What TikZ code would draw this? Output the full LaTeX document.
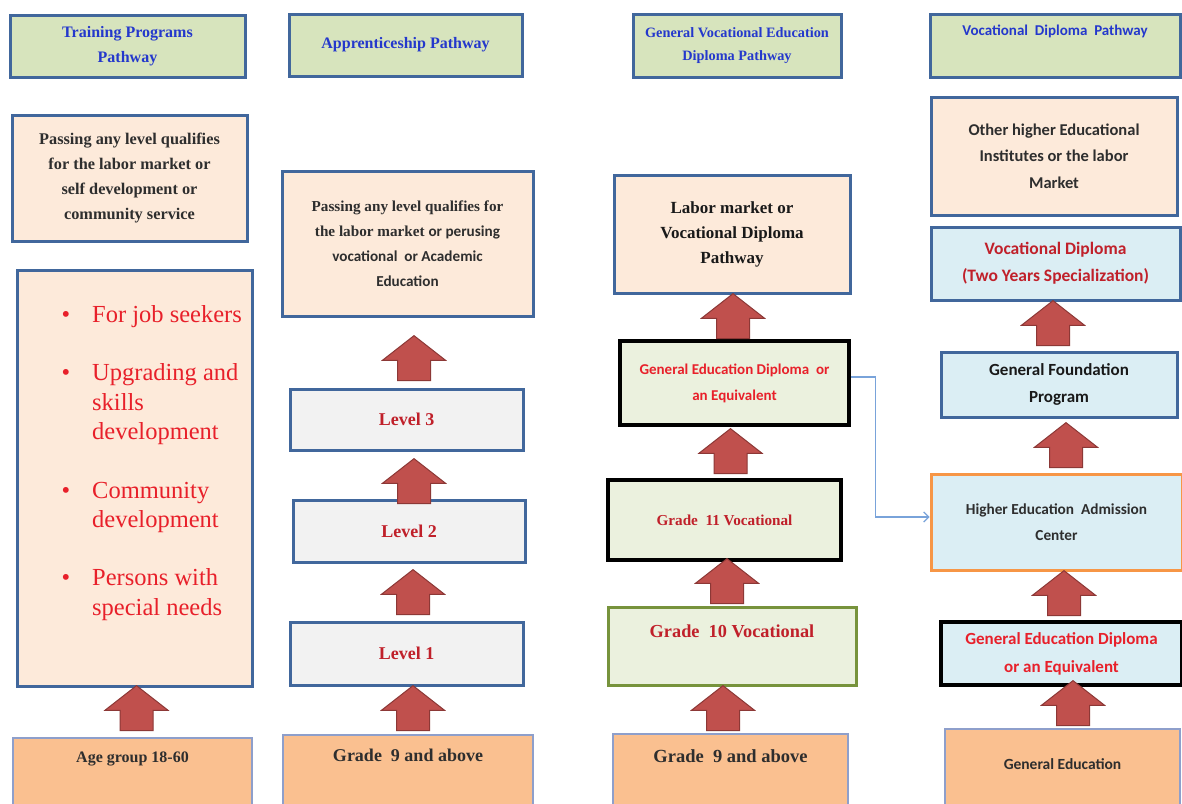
\documentclass[tikz,border=0pt]{standalone}
\usepackage{fontspec}
\setmainfont{Liberation Serif}
\newfontfamily\cali{Carlito}
\usetikzlibrary{shapes.arrows,arrows.meta}
\definecolor{hdrgreen}{HTML}{D7E4BD}
\definecolor{peach}{HTML}{FDEADA}
\definecolor{tanbox}{HTML}{FAC090}
\definecolor{paleolive}{HTML}{EBF1DE}
\definecolor{paleblue}{HTML}{DBEEF4}
\definecolor{palegray}{HTML}{F2F2F2}
\definecolor{boxblue}{HTML}{41679C}
\definecolor{lavline}{HTML}{8E9FCB}
\definecolor{oliveline}{HTML}{77933C}
\definecolor{orangeline}{HTML}{F79646}
\definecolor{ttlblue}{HTML}{2438CC}
\definecolor{brightred}{HTML}{E8202A}
\definecolor{darkred}{HTML}{C0202A}
\definecolor{inkgray}{HTML}{2E2E2E}
\definecolor{arrfill}{HTML}{C0504D}
\definecolor{arrline}{HTML}{8C3836}
\definecolor{linkblue}{HTML}{79A3DA}
\begin{document}
\begin{tikzpicture}[
  x=1pt,y=-1pt,
  box/.style={draw=boxblue,line width=3pt,align=center,inner sep=2pt},
  hdrbox/.style={box,fill=hdrgreen,text=ttlblue,font=\bfseries\fontsize{16}{24.5}\selectfont},
  infobox/.style={box,fill=peach,text=inkgray},
  levelbox/.style={box,fill=palegray,text=darkred,font=\bfseries\fontsize{18}{22}\selectfont},
  entrybox/.style={draw=lavline,line width=1.5pt,fill=tanbox,text=inkgray},
  toplab/.style={anchor=north,inner sep=0pt},
  bullets/.style={align=left,text=brightred,inner sep=0pt,font=\fontsize{24.5}{29.3}\selectfont},
  uparrow/.style={single arrow,shape border rotate=90,anchor=tip,fill=arrfill,draw=arrline,line width=1pt,
    minimum height=45pt,single arrow head extend=15pt,single arrow tip angle=104,inner xsep=16pt,inner ysep=4pt},
  link/.style={draw=linkblue,line width=1.2pt,-{Straight Barb[length=5pt,width=10pt]}}
]
  \useasboundingbox[fill=white] (0,0) rectangle (1182,803);

  % training programs
  \node[hdrbox,minimum width=235pt,minimum height=62pt] (T1) at (127.5,46) {Training Programs\\Pathway};
  \node[infobox,minimum width=235pt,minimum height=126pt,font=\bfseries\fontsize{16.3}{25}\selectfont] (T2) at (129.5,178)
    {Passing any level qualifies\\for the labor market or\\self development or\\community service};
  \node[infobox,minimum width=235pt,minimum height=416pt] (T3) at (134.5,478) {};
  \node[bullets,anchor=north west] (T3list) at (92,305) {%
    \llap{\textbullet\hspace{22pt}}For job seekers\\[29.3pt]
    \llap{\textbullet\hspace{22pt}}Upgrading and\\skills\\development\\[29.3pt]
    \llap{\textbullet\hspace{22pt}}Community\\development\\[29.3pt]
    \llap{\textbullet\hspace{22pt}}Persons with\\special needs};
  \node[entrybox,minimum width=239pt,minimum height=74pt,
    label={[toplab,yshift=-14pt,font=\bfseries\fontsize{16}{20}\selectfont,text=inkgray]north:Age group 18-60}] (T4) at (132.5,775) {};

  % apprenticeship
  \node[hdrbox,minimum width=233pt,minimum height=62pt] (A1) at (405.5,45) {Apprenticeship Pathway};
  \node[infobox,minimum width=251pt,minimum height=145pt,font=\fontsize{15.2}{25}\selectfont] (A2) at (407.5,243.5)
    {\bfseries Passing any\ level\ qualifies for\\{\bfseries the labor\ market} {\cali\bfseries or perusing}\\{\cali\bfseries vocational\ \ or Academic}\\{\cali\bfseries Education}};
  \node[levelbox,minimum width=233pt,minimum height=61pt] (A3) at (406.5,419.5) {Level 3};
  \node[levelbox,minimum width=232pt,minimum height=62pt] (A4) at (409,531) {Level 2};
  \node[levelbox,minimum width=233pt,minimum height=63pt] (A5) at (406.5,653.5) {Level 1};
  \node[entrybox,minimum width=250pt,minimum height=80pt,
    label={[toplab,yshift=-15pt,font=\bfseries\fontsize{18}{22}\selectfont,text=inkgray]north:Grade\ \ 9 and above}] (A6) at (408,775) {};

  % general vocational education diploma
  \node[hdrbox,minimum width=208pt,minimum height=63pt,font=\bfseries\fontsize{14.3}{23}\selectfont] (G1) at (737,45.5)
    {General Vocational Education\\Diploma Pathway};
  \node[infobox,minimum width=236pt,minimum height=118pt,text=black!90,font=\bfseries\fontsize{17}{25}\selectfont] (G2) at (732,234)
    {Labor\ market or\\Vocational Diploma\\Pathway};
  \node[box,draw=black,line width=3.5pt,fill=paleolive,text=brightred,minimum width=229pt,minimum height=84pt,
    font=\cali\bfseries\fontsize{15}{26}\selectfont] (G3) at (734.5,383) {General Education\ Diploma\ \ or\\an Equivalent};
  \node[box,draw=black,line width=3.5pt,fill=paleolive,text=darkred,minimum width=233pt,minimum height=80pt,
    font=\bfseries\fontsize{15.2}{18}\selectfont] (G4) at (724.5,520) {Grade\ \ 11 Vocational};
  \node[box,draw=oliveline,fill=paleolive,minimum width=248pt,minimum height=78pt,
    label={[toplab,yshift=-19pt,font=\bfseries\fontsize{18.3}{23}\selectfont,text=darkred]north:Grade\ \ 10 Vocational}] (G5) at (732,646) {};
  \node[entrybox,minimum width=235pt,minimum height=76pt,
    label={[toplab,yshift=-16pt,font=\bfseries\fontsize{18.5}{23}\selectfont,text=inkgray]north:Grade\ \ 9 and above}] (G6) at (730.5,772) {};

  % vocational diploma
  \node[box,fill=hdrgreen,minimum width=250pt,minimum height=63pt,
    label={[toplab,yshift=-12pt,font=\cali\bfseries\fontsize{15}{18}\selectfont,text=ttlblue]north:Vocational\ \ Diploma\ \ Pathway}] (V1) at (1055,45.5) {};
  \node[infobox,minimum width=246pt,minimum height=118pt,font=\cali\bfseries\fontsize{16.5}{26.5}\selectfont] (V2) at (1054,156)
    {Other higher Educational\\Institutes or the labor\\Market};
  \node[box,fill=paleblue,text=darkred,minimum width=249pt,minimum height=73pt,
    font=\cali\bfseries\fontsize{17.5}{27}\selectfont] (V3) at (1055.5,263.5) {Vocational Diploma\\(Two Years Specialization)};
  \node[box,fill=paleblue,text=black!90,minimum width=236pt,minimum height=65pt,
    font=\cali\bfseries\fontsize{17}{27}\selectfont] (V4) at (1059,384.5) {General Foundation\\Program};
  \node[box,draw=orangeline,fill=paleblue,text=inkgray,minimum width=251pt,minimum height=96pt,
    font=\cali\bfseries\fontsize{15.3}{26}\selectfont] (V5) at (1056.5,522) {Higher Education\ \ Admission\\Center};
  \node[box,draw=black,line width=3.5pt,fill=paleblue,text=brightred,minimum width=241pt,minimum height=63pt,
    font=\cali\bfseries\fontsize{17}{28}\selectfont] (V6) at (1061.5,653.5) {General Education Diploma\\or an Equivalent};
  \node[entrybox,minimum width=235pt,minimum height=82pt,
    label={[toplab,yshift=-30pt,font=\cali\bfseries\fontsize{15.5}{18}\selectfont,text=inkgray]north:General Education}] (V7) at (1062.5,770) {};

  % block arrows, placed by their tips
  \node[uparrow] (upT1) at (136.5,685) {};
  \node[uparrow] (upA1) at (414,335) {};
  \node[uparrow] (upA2) at (414,458) {};
  \node[uparrow] (upA3) at (413,569) {};
  \node[uparrow] (upA4) at (413,685) {};
  \node[uparrow] (upG1) at (733,293) {};
  \node[uparrow] (upG2) at (730.5,428) {};
  \node[uparrow] (upG3) at (727,558) {};
  \node[uparrow] (upG4) at (723,685) {};
  \node[uparrow] (upV1) at (1053,300) {};
  \node[uparrow] (upV2) at (1066,422) {};
  \node[uparrow] (upV3) at (1064,570) {};
  \node[uparrow] (upV4) at (1073,680) {};

  \draw[link] ([yshift=6pt]G3.east) -- ++(25,0) |- ([yshift=5pt]V5.west);
\end{tikzpicture}
\end{document}
